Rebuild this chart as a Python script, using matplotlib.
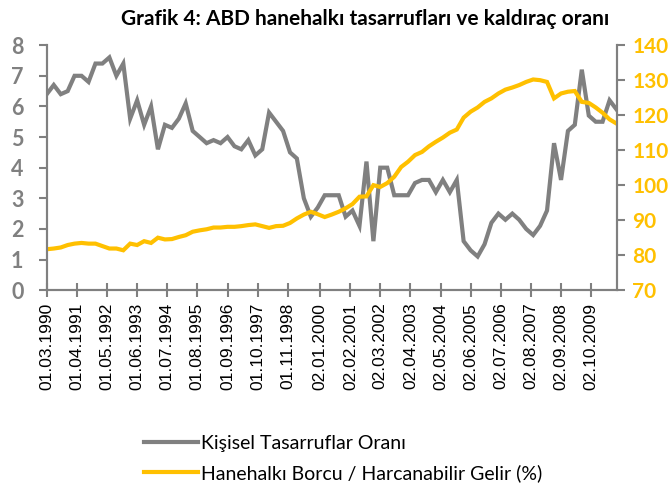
import matplotlib
matplotlib.use("Agg")
import pandas as pd
from matplotlib import pyplot as plt

# quarterly data, 1990-03 .. 2010-09
dates = pd.date_range("1990-03-01", "2010-09-01", freq="QS-MAR")

savings = [6.4, 6.7, 6.4, 6.5, 7.0, 7.0, 6.8, 7.4, 7.4, 7.6,
           7.0, 7.4, 5.6, 6.2, 5.4, 6.0, 4.6, 5.4, 5.3, 5.6,
           6.1, 5.2, 5.0, 4.8, 4.9, 4.8, 5.0, 4.7, 4.6, 4.9,
           4.4, 4.6, 5.8, 5.5, 5.2, 4.5, 4.3, 3.0, 2.4, 2.7,
           3.1, 3.1, 3.1, 2.4, 2.6, 2.1, 4.2, 1.6, 4.0, 4.0,
           3.1, 3.1, 3.1, 3.5, 3.6, 3.6, 3.2, 3.6, 3.2, 3.6,
           1.6, 1.3, 1.1, 1.5, 2.2, 2.5, 2.3, 2.5, 2.3, 2.0,
           1.8, 2.1, 2.6, 4.8, 3.6, 5.2, 5.4, 7.2, 5.7, 5.5,
           5.5, 6.2, 5.9]

debt_income = [81.7, 81.9, 82.2, 82.9, 83.3, 83.5, 83.3, 83.3, 82.6, 81.9,
               81.9, 81.4, 83.3, 82.9, 84.0, 83.5, 85.0, 84.5, 84.6, 85.2,
               85.7, 86.7, 87.1, 87.4, 87.9, 87.9, 88.1, 88.1, 88.3, 88.6,
               88.8, 88.3, 87.8, 88.3, 88.4, 89.2, 90.5, 91.6, 92.4, 91.7,
               90.9, 91.6, 92.4, 93.4, 94.6, 96.7, 96.8, 100.0, 99.5, 100.6,
               102.4, 105.2, 106.7, 108.6, 109.5, 111.1, 112.4, 113.6, 115.0, 115.9,
               119.3, 121.0, 122.2, 123.8, 124.8, 126.2, 127.3, 127.9, 128.6, 129.5,
               130.2, 130.0, 129.5, 124.8, 126.2, 126.7, 126.9, 123.8, 123.5, 122.2,
               120.7, 118.8, 117.6]

tick_labels = ["01.03.1990", "01.04.1991", "01.05.1992", "01.06.1993", "01.07.1994",
               "01.08.1995", "01.09.1996", "01.10.1997", "01.11.1998", "02.01.2000",
               "02.02.2001", "02.03.2002", "02.04.2003", "02.05.2004", "02.06.2005",
               "02.07.2006", "02.08.2007", "02.09.2008", "02.10.2009"]
tick_dates = pd.to_datetime(tick_labels, format="%d.%m.%Y")

gray = "#808080"
yellow = "#FFC000"

fig = plt.figure(figsize=(6.68, 4.91), dpi=100)
ax = fig.add_axes([0.070, 0.409, 0.853, 0.499])
ax2 = ax.twinx()

l1, = ax.plot(dates, savings, color=gray, lw=3.0, solid_joinstyle="miter")
l2, = ax2.plot(dates, debt_income, color=yellow, lw=3.0, solid_joinstyle="miter")

ax.set_xlim(dates[0], dates[-1])
ax.set_ylim(0, 8)
ax2.set_ylim(70, 140)
ax.set_yticks(range(0, 9))
ax2.set_yticks(range(70, 141, 10))

ax.set_xticks(tick_dates)
ax.set_xticklabels(tick_labels, rotation=90, fontsize=12.5, family="Liberation Sans")

for a in (ax, ax2):
    for s in a.spines.values():
        s.set_color(gray)
        s.set_linewidth(1.5)
    a.spines["top"].set_visible(False)

ax.tick_params(axis="y", colors=gray, length=5.8, width=1.5, pad=11)
ax2.tick_params(axis="y", colors=gray, length=5.8, width=1.5, pad=5.5)
ax.tick_params(axis="x", direction="inout", length=10, width=1.5, color=gray, pad=4)

for t in ax.get_yticklabels():
    t.set_fontsize(15.5)
    t.set_fontweight("bold")
    t.set_family("Lato")
    t.set_color(gray)
for t in ax2.get_yticklabels():
    t.set_fontsize(15)
    t.set_fontweight("bold")
    t.set_family("Lato")
    t.set_color(yellow)

fig.suptitle("Grafik 4: ABD hanehalkı tasarrufları ve kaldıraç oranı",
             x=0.546, y=0.982, fontsize=15, fontweight="bold", family="Lato")

fig.legend([l1, l2], ["Kişisel Tasarruflar Oranı", "Hanehalkı Borcu / Harcanabilir Gelir (%)"],
           loc="upper left", bbox_to_anchor=(0.2035, 0.130), frameon=False,
           prop={"family": "Lato", "size": 14}, handlelength=2.8, handletextpad=0.15,
           labelspacing=0.62, borderaxespad=0)

fig.savefig("out.png", dpi=100)
